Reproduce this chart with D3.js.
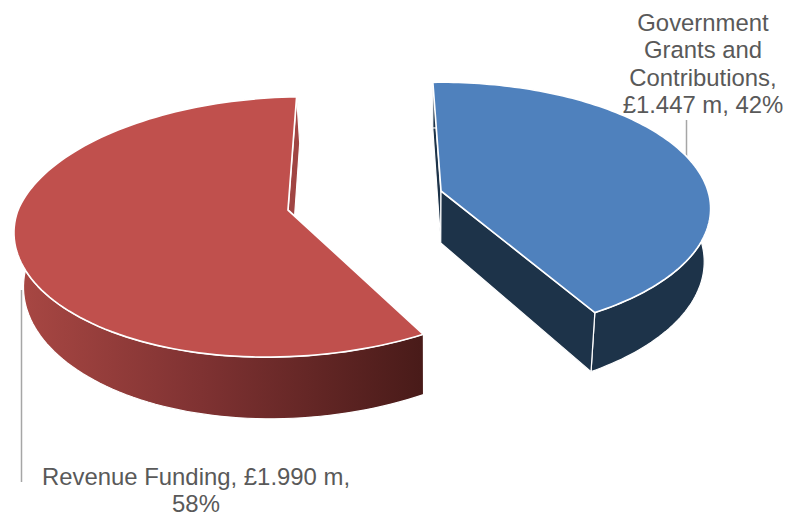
<!DOCTYPE html>
<html><head><meta charset="utf-8">
<script src="https://cdn.jsdelivr.net/npm/d3@7"></script>
<style>html,body{margin:0;padding:0;background:#fff}svg{display:block}text{font-family:"Liberation Sans",Arial,sans-serif;font-size:23.9px;fill:#595959;text-anchor:middle}</style>
</head><body><script>
const categories = ["Government Grants and Contributions", "Revenue Funding"];
const values = [1.447, 1.990];
const percents = [42, 58];
const labelLines = [
  ["Government", "Grants and", "Contributions,", "£1.447 m, 42%"],
  ["Revenue Funding, £1.990 m,", "58%"]
];
const W = 786, H = 513;
const rad = Math.PI / 180;
const slices = d3.pie().sort(null).value(d => d).startAngle(-2 * rad).endAngle(358 * rad)(values);
const styles = [
  {cx: 441, cy: 191, R: 267, V: 124, k: .14, shear: 0, bow: 0, top: "#4f81bd", side: "#1d3349", face: "#1d3349",
   label: [703, 31], leader: [[686.5, 120], [686.5, 160]]},
  {cx: 288, cy: 210, R: 270, V: 128, k: .13, shear: -.15, bow: 8, top: "#c0504d", side: "url(#redSide)", face: "#a04543",
   label: [196, 485], leader: [[21.5, 290], [21.5, 482]]}
];
const svg = d3.select("body").append("svg").attr("width", W).attr("height", H);
const grad = svg.append("defs").append("linearGradient").attr("id", "redSide")
  .attr("gradientUnits", "userSpaceOnUse").attr("x1", 20).attr("x2", 421).attr("y1", 0).attr("y2", 0);
[["0", "#a84743"], ["0.45", "#7f3232"], ["1", "#491b19"]].forEach(s => grad.append("stop").attr("offset", s[0]).attr("stop-color", s[1]));

function project(a, st) {
  const u = Math.sin(a), w = Math.cos(a), s = 1 / (1 + st.k * w);
  const y = -st.V * w * s;
  const bow = (u < 0 && w < 0) ? st.bow * u * w : 0;
  return [st.cx + st.R * u * s + st.shear * y + bow, st.cy + y];
}
function base(p) { return [430 + .977 * (p[0] - 430), 243 + 1.058 * (p[1] - 191)]; }
const line = d3.line();
function arcPts(d, st) {
  const n = 120, sc = d3.scaleLinear().domain([0, n]).range([d.startAngle, d.endAngle]);
  return d3.range(n + 1).map(i => project(sc(i), st));
}
slices.forEach((d, i) => {
  const st = styles[i], pts = arcPts(d, st), apex = [st.cx, st.cy];
  const g = svg.append("g");
  g.append("path").attr("d", line(st.leader)).attr("fill", "none").attr("stroke", "#a6a6a6").attr("stroke-width", 1.5);
  const first = pts[0], last = pts[pts.length - 1];
  const face = q => g.append("path").attr("d", line([apex, q, base(q), base(apex)]) + "Z")
      .attr("fill", st.face).attr("stroke", "#fff").attr("stroke-width", 1.2).attr("stroke-linejoin", "round");
  face(first);
  g.append("path").attr("d", line(pts.concat(pts.map(base).reverse())) + "Z")
    .attr("fill", st.side).attr("stroke", "#fff").attr("stroke-width", 1.2).attr("stroke-linejoin", "round");
  face(last);
  g.append("path").attr("d", line([apex].concat(pts)) + "Z")
    .attr("fill", st.top).attr("stroke", "#fff").attr("stroke-width", 1.7).attr("stroke-linejoin", "round");
  const t = svg.append("text");
  labelLines[i].forEach((s, j) => t.append("tspan").attr("x", st.label[0]).attr("y", st.label[1] + j * 27.3).text(s));
});
</script></body></html>
